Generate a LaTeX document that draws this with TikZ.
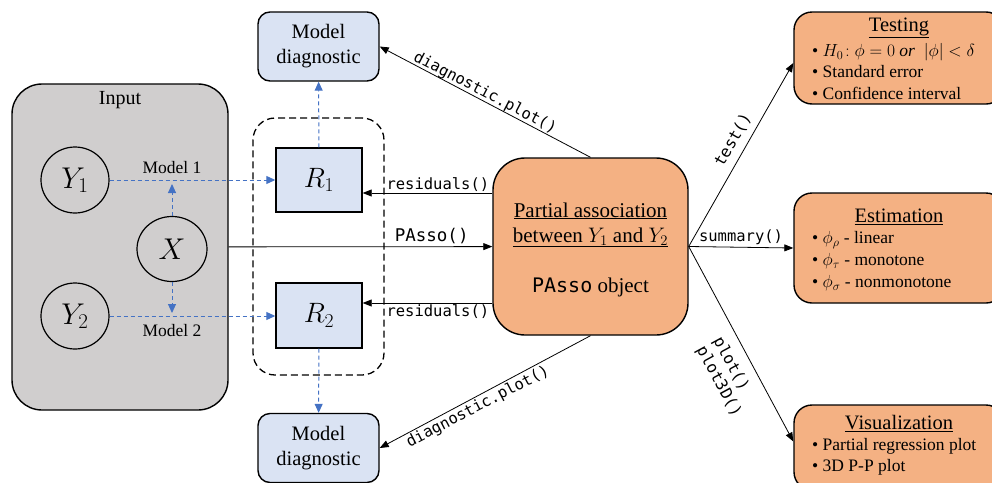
\RequirePackage{fix-cm}
\documentclass[tikz,border=0pt]{standalone}
\usepackage{fontspec}
\setmainfont{Liberation Serif}
\setmonofont{DejaVu Sans Mono}
\usetikzlibrary{arrows.meta,shapes.geometric,calc}
\definecolor{ingray}{HTML}{D0CECE}
\definecolor{bfill}{HTML}{DAE3F3}
\definecolor{ofill}{HTML}{F4B183}
\definecolor{bline}{HTML}{4472C4}
\tikzset{
  inbox/.style={draw, line width=1.4pt, fill=ingray, rounded corners=30pt, inner sep=0pt},
  circ/.style={draw, ellipse, line width=1.2pt, inner sep=0pt, font=\fontsize{30}{34}\selectfont},
  rbox/.style={draw, line width=1.4pt, fill=bfill, inner sep=0pt, font=\fontsize{28}{32}\selectfont},
  diagbox/.style={draw, line width=1.4pt, fill=bfill, rounded corners=12pt, inner sep=0pt, align=center, font=\fontsize{20.5}{25}\selectfont},
  grpbox/.style={draw, line width=1.3pt, dash pattern=on 7pt off 4pt, rounded corners=22pt, inner sep=0pt},
  obox/.style={draw, line width=1.4pt, fill=ofill, inner sep=0pt},
  serifA/.style={font=\fontsize{20}{25}\selectfont},
  serifM/.style={font=\fontsize{17.5}{21}\selectfont},
  ttl/.style={font=\fontsize{20.5}{25}\selectfont, inner sep=0pt},
  itm/.style={align=left, inner sep=0pt, anchor=west},
  code/.style={font=\ttfamily\fontsize{15.5}{19}\selectfont},
  arr/.style={-{Triangle[length=9pt,width=7pt]}, line width=0.8pt},
  bdash/.style={draw=bline, dash pattern=on 4pt off 3pt, line width=1pt, -{Triangle[length=9pt,width=8pt]}},
}
\begin{document}
\begin{tikzpicture}[x=1pt,y=-1pt]
\useasboundingbox (0,0) rectangle (992,482);
\clip (0,0) rectangle (992,482);

% Input
\node[inbox, minimum width=216pt, minimum height=326pt] (input) at (120,247) {};
\node[serifA] (inlab) at (120,100) {Input};
\node[circ, minimum width=68pt, minimum height=66pt] (y1) at (75,180) {$Y_1$};
\node[circ, minimum width=70pt, minimum height=65pt] (x) at (172,249) {$X$};
\node[circ, minimum width=68pt, minimum height=66pt] (y2) at (75,316) {$Y_2$};
\node[serifM] (m1lab) at (172,168) {Model 1};
\node[serifM] (m2lab) at (172,331) {Model 2};

% residual group
\node[grpbox, minimum width=131pt, minimum height=257pt] (grp) at (318.5,246.5) {};
\node[rbox, minimum width=86pt, minimum height=64pt] (r1) at (319,180) {$R_1$};
\node[rbox, minimum width=86pt, minimum height=65pt] (r2) at (319,315.5) {$R_2$};
\node[diagbox, minimum width=121pt, minimum height=69pt] (d1) at (318.5,46.5) {Model\\diagnostic};
\node[diagbox, minimum width=121pt, minimum height=69pt] (d2) at (318.5,448) {Model\\diagnostic};

% PAsso object
\node[obox, rounded corners=32pt, minimum width=195pt, minimum height=177pt] (passo) at (590.5,246.5) {};
\node[align=center, inner sep=0pt, font=\fontsize{21}{25}\selectfont] (ptext) at (590.5,249.5)
  {\underline{Partial association}\\ \underline{between $Y_1$ and $Y_2$}\\[25pt] {\ttfamily\fontsize{20}{25}\selectfont PAsso} object};

% right boxes
\node[obox, rounded corners=18pt, minimum width=210pt, minimum height=92pt] (test) at (899,58) {};
\node[obox, rounded corners=18pt, minimum width=210pt, minimum height=110pt] (est) at (899,248) {};
\node[obox, rounded corners=18pt, minimum width=210pt, minimum height=85pt] (vis) at (899,447.5) {};

\node[ttl] (testttl) at (899,28) {\underline{Testing}};
\node[itm, font=\fontsize{17.5}{21.5}\selectfont] (testitm) at (812,71.5)
  {\textbullet\ $H_0\!:\phi=0\ \mathit{or}\ \ |\phi|<\delta$\\ \textbullet\ Standard error\\ \textbullet\ Confidence interval};
\node[ttl] (estttl) at (899,217) {\underline{Estimation}};
\node[itm, font=\fontsize{17.5}{22}\selectfont] (estitm) at (812,261)
  {\textbullet\ $\phi_\rho$ - linear\\ \textbullet\ $\phi_\tau$ - monotone\\ \textbullet\ $\phi_\sigma$ - nonmonotone};
\node[ttl] (visttl) at (899,424) {\underline{Visualization}};
\node[itm, font=\fontsize{17.5}{20.5}\selectfont] (visitm) at (812,457)
  {\textbullet\ Partial regression plot\\ \textbullet\ 3D P-P plot};

% blue dashed connectors
\coordinate (m1) at (172,184);
\coordinate (m2) at (172,313);
\draw[bdash] (y1) -- (r1);
\draw[bdash] (y2.east) -- (r2.west |- y2.east);
\draw[bdash] (x) -- (m1);
\draw[bdash] (x) -- (m2);
\draw[bdash] (r1) -- (d1);
\draw[bdash] (r2) -- (d2);

% black connectors
\draw[arr] (input) -- (passo) node[code, pos=0.77, above, inner sep=2pt, font=\ttfamily\fontsize{17.5}{20}\selectfont] {PAsso()};
\coordinate (ra) at ([yshift=-13pt]r1.east);
\coordinate (rb) at ([yshift=12.5pt]r2.east);
\draw[arr] (ra -| passo.west) -- (ra) node[code, pos=0.42, above, inner sep=1.5pt] {residuals()};
\draw[arr] (rb -| passo.west) -- (rb) node[code, pos=0.42, below, inner sep=1.5pt] {residuals()};

\draw[arr] (passo.north) -- (d1.east);
\node[code, rotate=-27.6, inner sep=0pt] (lbd1) at (485,93) {diagnostic.plot()};
\draw[arr] (passo.south) -- (d2.east);
\node[code, rotate=27.6, inner sep=0pt] (lbd2) at (478,407) {diagnostic.plot()};

\coordinate (pr) at (passo.east);
\draw[arr] (pr) -- ([yshift=-5pt]test.west);
\node[code, rotate=60, inner sep=0pt, font=\ttfamily\fontsize{16}{19}\selectfont] (lbtest) at (733,140) {test()};
\draw[arr] (pr) -- (est.west) node[code, pos=0.5, above, inner sep=2pt] {summary()};
\draw[arr] (pr) -- ([yshift=6pt]vis.west);
\node[code, rotate=-61.5, align=left, inner sep=0pt, font=\ttfamily\fontsize{16}{19}\selectfont] (lbplot) at (727,377) {plot()\\plot3D()};
\end{tikzpicture}
\end{document}
